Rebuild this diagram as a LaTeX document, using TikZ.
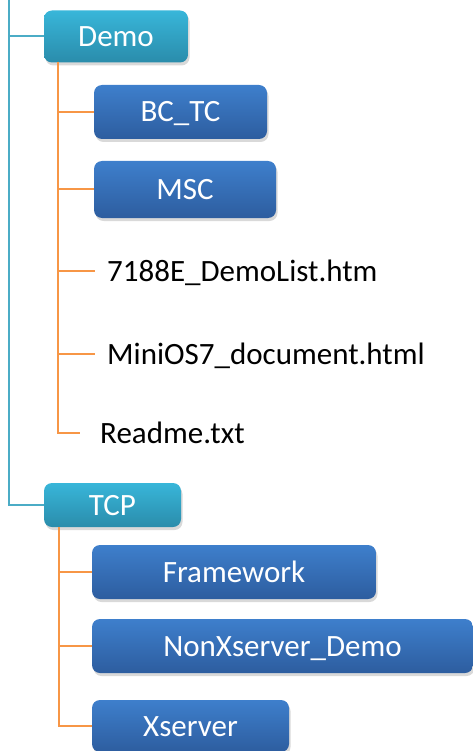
\documentclass[tikz,border=0pt]{standalone}
\usepackage{fontspec}
\setmainfont{Carlito}
\usetikzlibrary{shadows}
\definecolor{tealline}{HTML}{4BACC6}
\definecolor{orangeline}{HTML}{F79646}
\definecolor{tealtop}{HTML}{38B6D9}
\definecolor{tealbot}{HTML}{2A8CAB}
\definecolor{bluetop}{HTML}{3E7FCC}
\definecolor{bluebot}{HTML}{2D5D9F}
\begin{document}
\begin{tikzpicture}[x=1pt,y=-1pt,
  base/.style={rounded corners=8pt, inner sep=0pt, text=white,
    font=\fontsize{31pt}{36pt}\selectfont, text height=20pt, text depth=0pt,
    drop shadow={shadow xshift=1.5pt, shadow yshift=-3pt, opacity=0.3}},
  tealbox/.style={base, top color=tealtop, bottom color=tealbot},
  bluebox/.style={base, top color=bluetop, bottom color=bluebot},
  filetext/.style={anchor=west, inner ysep=0pt, text=black,
    font=\fontsize{31pt}{36pt}\selectfont, text height=20pt, text depth=0pt},
  tline/.style={draw=tealline, line width=2pt},
  oline/.style={draw=orangeline, line width=2pt}]
\useasboundingbox (0,0) rectangle (473,751);

\node[tealbox, minimum width=144pt, minimum height=52pt] (demo) at (116,36.5) {Demo};
\node[bluebox, minimum width=173pt, minimum height=54pt] (bctc) at (180.5,112) {BC\_TC};
\node[bluebox, minimum width=182pt, minimum height=57pt] (msc) at (185,189.5) {MSC};
\node[filetext, inner xsep=12pt] (f1) at (95,271) {7188E\_DemoList.htm};
\node[filetext, inner xsep=12pt] (f2) at (95,354) {MiniOS7\_document.html};
\node[filetext, inner xsep=20pt] (f3) at (80,433) {Readme.txt};
\node[tealbox, minimum width=137pt, minimum height=44pt] (tcp) at (112.5,505) {TCP};
\node[bluebox, minimum width=284pt, minimum height=54pt] (fw) at (234,572) {Framework};
\node[bluebox, minimum width=381pt, minimum height=54pt] (nx) at (282.5,646) {NonXserver\_Demo};
\node[bluebox, minimum width=197pt, minimum height=52pt] (xs) at (190.5,726) {Xserver};

\coordinate (b0) at (9,0);
\coordinate (d0) at (58,62);
\coordinate (t0) at (59,527);

\draw[tline] (b0) |- (demo.west);
\draw[tline] (b0) |- (tcp.west);
\draw[oline] (d0) |- (bctc.west);
\draw[oline] (d0) |- (msc.west);
\draw[oline] (d0) |- (f1.west);
\draw[oline] (d0) |- (f2.west);
\draw[oline] (d0) |- (f3.west);
\draw[oline] (t0) |- (fw.west);
\draw[oline] (t0) |- (nx.west);
\draw[oline] (t0) |- (xs.west);
\end{tikzpicture}
\end{document}
